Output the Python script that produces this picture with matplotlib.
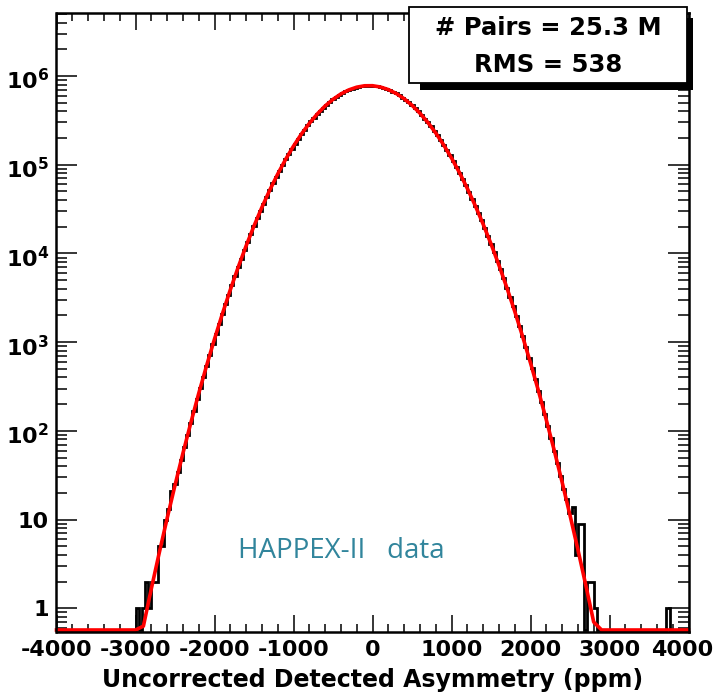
import numpy as np
import matplotlib
matplotlib.use("Agg")
import matplotlib.pyplot as plt
from matplotlib.patches import Rectangle
from matplotlib.transforms import ScaledTranslation
from matplotlib.ticker import FixedLocator, FixedFormatter, LogLocator, NullFormatter

# ---------------- data ----------------
bin_edges = np.arange(-4000, 4001, 40)          # 200 bins of 40 ppm
counts = [
    0, 0, 0, 0, 0, 0, 0, 0, 0, 0,
    0, 0, 0, 0, 0, 0, 0, 0, 0, 0,
    0, 0, 0, 0, 0, 1, 0, 1, 2, 1,
    2, 2, 5, 5, 10, 13, 21, 25, 34, 47,
    66, 90, 123, 168, 227, 305, 409, 544, 720, 947,
    1240, 1614, 2089, 2690, 3444, 4385, 5554, 6994, 8760, 10910,
    13510, 16650, 20400, 24860, 30110, 36290, 43500, 51850, 61470, 72460,
    84950, 99000, 114900, 132400, 151900, 173200, 196500, 222000, 249000, 277000,
    308000, 340000, 373000, 407000, 441000, 477000, 512000, 546000, 580000, 612000,
    643000, 671000, 697000, 720000, 740000, 756000, 768000, 776000, 780000, 779000,
    774000, 765000, 752000, 735000, 715000, 691000, 664000, 635000, 604000, 571000,
    537500, 503000, 467700, 432700, 398100, 364300, 331500, 300000, 270100, 241700,
    215100, 190500, 167700, 146900, 127900, 110700, 95350, 81680, 69570, 58940,
    49650, 41600, 34660, 28720, 23670, 19400, 15810, 12820, 10330, 8285,
    6605, 5237, 4130, 3238, 2527, 1960, 1512, 1160, 885, 671,
    507, 380, 284, 211, 155, 114, 83, 60, 44, 31,
    22, 17, 12, 14, 4, 9, 9, 0, 2, 2,
    1, 0, 0, 0, 0, 0, 0, 0, 0, 0,
    0, 0, 0, 0, 0, 0, 0, 0, 0, 0,
    0, 0, 0, 1, 0, 0, 0, 0, 0, 0,
]

fit_x = np.arange(-4000, 4001, 100)
fit_y = [
    0, 0, 0, 0, 0, 0, 0, 0, 0, 0,
    0.23, 0.63, 1.66, 4.2, 10.3, 24.4, 55.8, 123, 264, 544,
    1084, 2089, 3890, 7000, 12160, 20400, 33100, 51900, 78500, 114800,
    162200, 221800, 292300, 372400, 459100, 546000, 628100, 697000, 748200, 776100,
    777400,
    751700, 703100, 635300, 554600, 467700, 381000, 300000, 228200, 167700, 119100,
    81700, 54100, 34660, 21440, 12820, 7400, 4130, 2230, 1160, 583,
    284, 133, 60.5, 26.5, 11.2, 4.6, 1.82, 0.70, 0.26, 0,
    0, 0, 0, 0, 0, 0, 0, 0, 0, 0,
]

x_ticks = [-4000, -3000, -2000, -1000, 0, 1000, 2000, 3000, 4000]
x_tick_labels = ["-4000", "-3000", "-2000", "-1000", "0", "1000", "2000", "3000", "4000"]
y_ticks = [1, 10, 1e2, 1e3, 1e4, 1e5, 1e6]
y_tick_labels = ["1", "10", r"$\mathbf{10^{2}}$", r"$\mathbf{10^{3}}$",
                 r"$\mathbf{10^{4}}$", r"$\mathbf{10^{5}}$", r"$\mathbf{10^{6}}$"]
stat_lines = ["# Pairs = 25.3 M", "RMS = 538"]
x_title = "Uncorrected Detected Asymmetry (ppm)"
note = "HAPPEX-II   data"

# ---------------- figure ----------------
plt.rcParams["font.family"] = ["DejaVu Sans"]
plt.rcParams["mathtext.fontset"] = "dejavusans"

W, H = 715, 694
fig = plt.figure(figsize=(W / 100, H / 100), dpi=100)

def fx(px):
    return px / W

def fy(py):
    return 1 - py / H

ax_l, ax_r, ax_t, ax_b = 56.5, 688.5, 13.3, 632.0
ax = fig.add_axes([fx(ax_l), fy(ax_b), (ax_r - ax_l) / W, (ax_b - ax_t) / H])

ymin, ymax = 0.541, 5.09e6
floor = 0.57
ax.set_yscale("log")
ax.set_xlim(-4000, 4000)
ax.set_ylim(ymin, ymax)

hist_vals = np.maximum(np.array(counts, dtype=float), floor)
ax.stairs(hist_vals, bin_edges, color="black", lw=2.0, baseline=None, zorder=3)

fit_vals = np.maximum(np.array(fit_y, dtype=float), floor)
ax.plot(fit_x, fit_vals, color="#ff0000", lw=2.6, zorder=4, clip_on=False,
        solid_joinstyle="round")

# ticks
ax.xaxis.set_major_locator(FixedLocator(x_ticks))
ax.xaxis.set_major_formatter(FixedFormatter(x_tick_labels))
ax.xaxis.set_minor_locator(FixedLocator(np.arange(-4000, 4001, 200)))
ax.yaxis.set_major_locator(FixedLocator(y_ticks))
ax.yaxis.set_major_formatter(FixedFormatter(y_tick_labels))
ax.yaxis.set_minor_locator(LogLocator(base=10, subs=np.arange(2, 10), numticks=30))
ax.yaxis.set_minor_formatter(NullFormatter())

ax.tick_params(axis="both", which="both", direction="in", top=True, right=True,
               width=1.1, colors="black")
ax.tick_params(axis="x", which="major", length=12.5, pad=6)
ax.tick_params(axis="x", which="minor", length=6)
ax.tick_params(axis="y", which="major", length=15, pad=5.5)
ax.tick_params(axis="y", which="minor", length=8)

for lab in ax.get_xticklabels() + ax.get_yticklabels():
    lab.set_fontsize(16)
    lab.set_fontweight("bold")

# keep the outermost x label inside the picture, as in the reference
xlabs = ax.get_xticklabels()
xlabs[-1].set_transform(xlabs[-1].get_transform() +
                        ScaledTranslation(-6 / 100, 0, fig.dpi_scale_trans))
# labels with an exponent sit a little lower, as in the reference
for lab in ax.get_yticklabels()[2:]:
    lab.set_transform(lab.get_transform() +
                      ScaledTranslation(0, -3 / 100, fig.dpi_scale_trans))

for sp in ax.spines.values():
    sp.set_linewidth(1.8)
    sp.set_zorder(5)

ax.set_xlabel(x_title, fontsize=17, fontweight="bold", labelpad=5.5)

# stats box with shadow
bx0, bx1, by0, by1 = 409.3, 686.7, 7.3, 83.3
shadow = Rectangle((fx(420), fy(90)), (693 - 420) / W, (90 - 18) / H,
                   transform=fig.transFigure, facecolor="black", edgecolor="none", zorder=10)
box = Rectangle((fx(bx0), fy(by1)), (bx1 - bx0) / W, (by1 - by0) / H,
                transform=fig.transFigure, facecolor="white", edgecolor="black",
                lw=1.3, zorder=11)
fig.add_artist(shadow)
fig.add_artist(box)
fig.text(fx(548), fy(28.3), stat_lines[0], ha="center", va="center",
         fontsize=17.5, fontweight="bold", zorder=12)
fig.text(fx(548), fy(65), stat_lines[1], ha="center", va="center",
         fontsize=17.5, fontweight="bold", zorder=12)

fig.text(fx(238), fy(558.3), note, ha="left", va="baseline",
         fontsize=20, color="#31859C", family=["Open Sans", "DejaVu Sans"], zorder=12)

fig.savefig("out.png", dpi=100)
